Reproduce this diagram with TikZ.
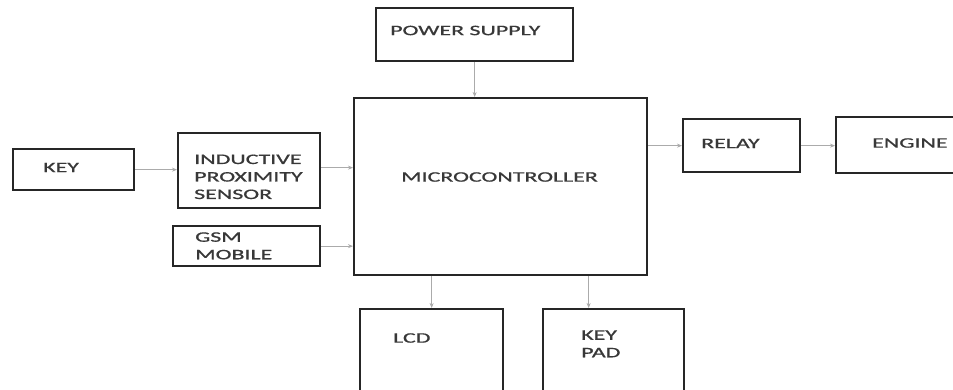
\documentclass[tikz,border=0pt]{standalone}
\usepackage{fontspec}
\setmainfont{Carlito}[FakeBold=0.7]
\usetikzlibrary{arrows.meta}
\definecolor{boxc}{HTML}{262626}
\definecolor{arrc}{HTML}{ABABAB}
\definecolor{txtc}{HTML}{383838}
\newcommand\wt[1]{\scalebox{1.65}[1]{#1}}
\newcommand\wtt[1]{\scalebox{1.65}[1]{\begin{tabular}{@{}l@{}}#1\end{tabular}}}
\tikzset{
  box/.style={draw=boxc, line width=2.3pt, anchor=north west, inner sep=0pt, fill=white},
  lbl/.style={anchor=west, inner sep=0pt, text=txtc, font=\fontsize{14.5}{17.5}\selectfont},
  arr/.style={draw=arrc, line width=1pt, -{Stealth[length=5pt,width=4pt]}}
}
\begin{document}
\begin{tikzpicture}[x=1pt,y=-1pt]
\useasboundingbox (0,0) rectangle (953,390);
\clip (0,0) rectangle (953,390);
\fill[white] (0,0) rectangle (953,390);
% boxes
\node[box, minimum width=197pt, minimum height=53pt] (pwr) at (375,7) {};
\node[box, minimum width=293pt, minimum height=177pt] (mc) at (353,97) {};
\node[box, minimum width=121pt, minimum height=41pt] (key) at (12,148) {};
\node[box, minimum width=142pt, minimum height=75pt] (ips) at (177,132) {};
\node[box, minimum width=147pt, minimum height=40pt] (gsm) at (172,225) {};
\node[box, minimum width=117pt, minimum height=53pt] (relay) at (682,118) {};
\node[box, minimum width=160pt, minimum height=56pt] (engine) at (835,116) {};
\node[box, minimum width=143pt, minimum height=112pt] (lcd) at (359,308) {};
\node[box, minimum width=141pt, minimum height=112pt] (kp) at (542,308) {};
% labels
\node[lbl] (tpwr) at (390,30.5) {\wt{POWER SUPPLY}};
\node[lbl, anchor=center] (tmc) at (499.5,177) {\wt{MICROCONTROLLER}};
\node[lbl] (tkey) at (43,167.5) {\wt{KEY}};
\node[lbl] (tips) at (194,178) {\wtt{INDUCTIVE\\PROXIMITY\\SENSOR}};
\node[lbl] (tgsm) at (195,247) {\wtt{GSM\\MOBILE}};
\node[lbl] (trelay) at (701,143.5) {\wt{RELAY}};
\node[lbl] (tengine) at (872,143) {\wt{ENGINE}};
\node[lbl] (tlcd) at (393,338) {\wt{LCD}};
\node[lbl] (tkp) at (581,345) {\wtt{KEY\\PAD}};
% connectors
\draw[arr] (pwr.south) -- (pwr.south |- mc.north);
\draw[arr] (key.east) -- (key.east -| ips.west);
\draw[arr] ([yshift=3pt]ips.east) coordinate (a1) -- (a1 -| mc.west);
\draw[arr] (gsm.east) -- (gsm.east -| mc.west);
\draw[arr] (relay.west -| mc.east) -- (relay.west);
\draw[arr] (relay.east) -- (relay.east -| engine.west);
\draw[arr] (lcd.north |- mc.south) -- (lcd.north);
\coordinate (a2) at ([xshift=-25pt]kp.north);
\draw[arr] (a2 |- mc.south) -- (a2);
\end{tikzpicture}
\end{document}
